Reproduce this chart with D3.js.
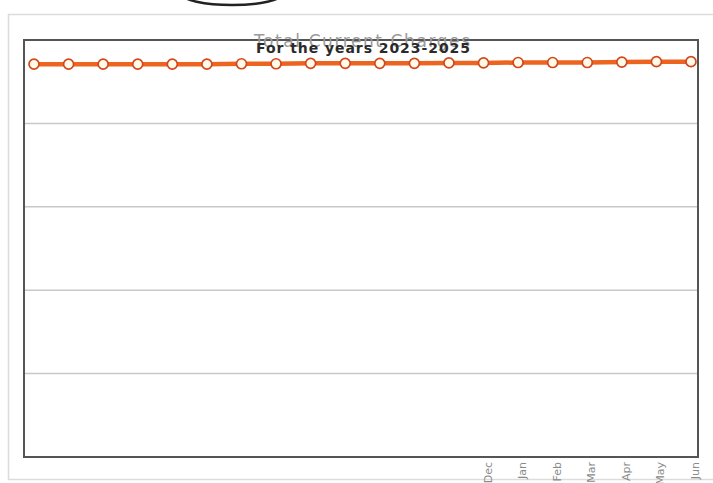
<!DOCTYPE html>
<html>
<head>
<meta charset="utf-8">
<script src="https://cdn.jsdelivr.net/npm/d3@7"></script>
<style>
  html, body { margin: 0; padding: 0; background: #fff; }
  svg { display: block; }
</style>
</head>
<body>
<svg id="chart" width="713" height="483"></svg>
<script>
// Monthly periods, Nov 2023 through Jun 2025
const periods = ["Nov 23","Dec 23","Jan 24","Feb 24","Mar 24","Apr 24","May 24","Jun 24",
  "Jul 24","Aug 24","Sep 24","Oct 24","Nov 24","Dec 24","Jan 25","Feb 25","Mar 25",
  "Apr 25","May 25","Jun 25"];
// Axis labels that are printed (earlier ones left blank)
const tickLabels = ["","","","","","","","","","","","","","Dec","Jan","Feb","Mar","Apr","May","Jun"];
// Total current charges per period
const charges = [4.71,4.71,4.71,4.71,4.71,4.71,4.715,4.715,4.72,4.72,4.72,4.72,4.725,4.725,4.73,4.73,4.73,4.735,4.74,4.74];
// Horizontal grid values
const gridValues = [1,2,3,4];

const svg = d3.select("#chart");
const plot = { left: 24, top: 40, right: 698, bottom: 457 };

// page frame
svg.append("rect")
  .attr("x", 8.5).attr("y", 14.5).attr("width", 720).attr("height", 465)
  .attr("fill", "none").attr("stroke", "#dcdcdc").attr("stroke-width", 1.5);

// partial ellipse at the top edge
svg.append("ellipse")
  .attr("cx", 232).attr("cy", -6).attr("rx", 50).attr("ry", 11)
  .attr("fill", "none").attr("stroke", "#222").attr("stroke-width", 2.5);

const x = d3.scalePoint().domain(periods)
  .range([plot.left + 10, plot.right - 7]);
const y = d3.scaleLinear().domain([0, 5]).range([plot.bottom, plot.top]);

// grid lines
svg.append("g")
  .selectAll("line").data(gridValues).join("line")
  .attr("x1", plot.left).attr("x2", plot.right)
  .attr("y1", d => y(d)).attr("y2", d => y(d))
  .attr("stroke", "#c8c8c8").attr("stroke-width", 1.5);

// plot frame
svg.append("rect")
  .attr("x", plot.left).attr("y", plot.top)
  .attr("width", plot.right - plot.left).attr("height", plot.bottom - plot.top)
  .attr("fill", "none").attr("stroke", "#555").attr("stroke-width", 2);

// titles
svg.append("text")
  .attr("x", 362).attr("y", 47).attr("text-anchor", "middle")
  .attr("font-family", "DejaVu Sans").attr("font-size", 17)
  .attr("fill", "#9a9a9a").attr("textLength", 216)
  .text("Total Current Charges");
svg.append("text")
  .attr("x", 363).attr("y", 53).attr("text-anchor", "middle")
  .attr("font-family", "DejaVu Sans").attr("font-weight", "bold").attr("font-size", 14)
  .attr("fill", "#2a2a2a").attr("textLength", 214)
  .text("For the years 2023-2025");

// x axis labels (rotated)
svg.append("g")
  .selectAll("text").data(periods).join("text")
  .attr("transform", d => `translate(${x(d) + 8},462) rotate(-90)`)
  .attr("text-anchor", "end")
  .attr("font-family", "DejaVu Sans").attr("font-size", 11)
  .attr("fill", "#8a8a8a")
  .text((d, i) => tickLabels[i]);

// series line
const line = d3.line().x((d, i) => x(periods[i])).y(d => y(d));
svg.append("path").datum(charges)
  .attr("d", line).attr("fill", "none")
  .attr("stroke", "#ec6420").attr("stroke-width", 4.5);

// markers
svg.append("g")
  .selectAll("circle").data(charges).join("circle")
  .attr("cx", (d, i) => x(periods[i])).attr("cy", d => y(d))
  .attr("r", 5)
  .attr("fill", "#fffbe8").attr("stroke", "#d4461c").attr("stroke-width", 1.7);
</script>
</body>
</html>
